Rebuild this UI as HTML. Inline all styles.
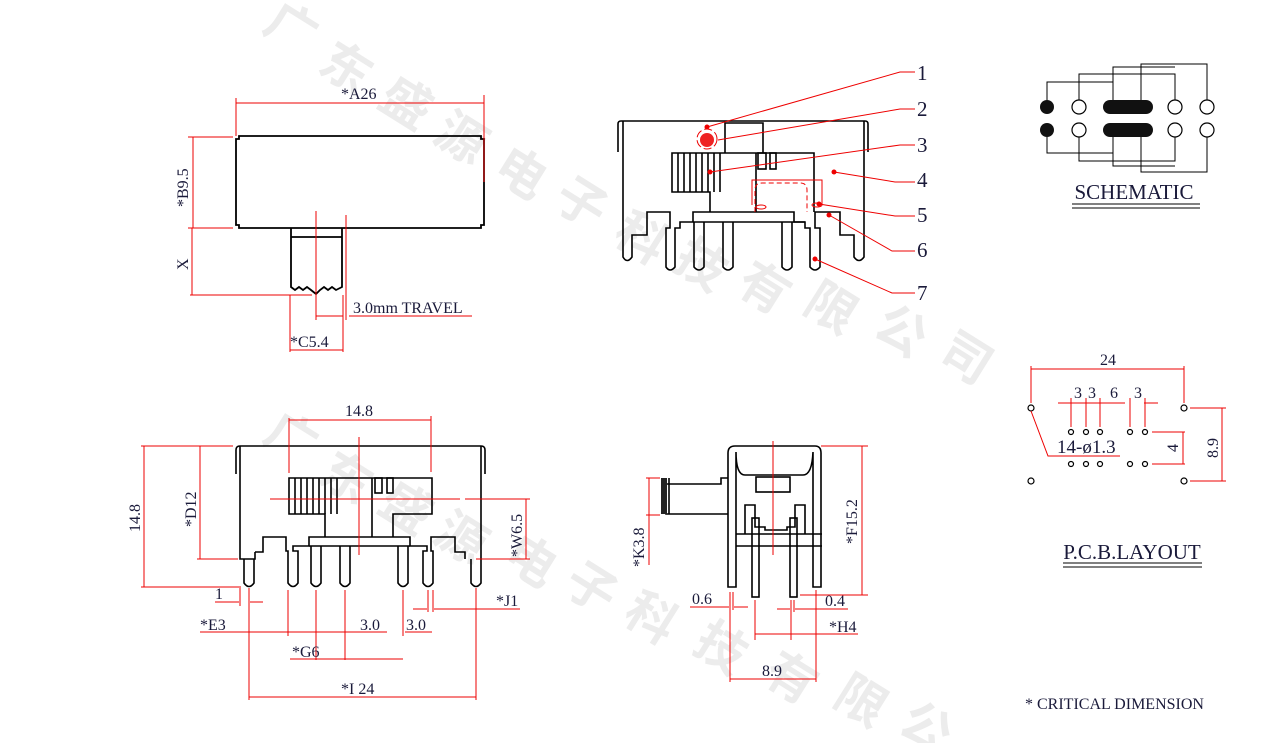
<!DOCTYPE html>
<html><head><meta charset="utf-8"><style>
html,body{margin:0;padding:0;background:#fff;}
svg{display:block;}
text{font-family:"Liberation Serif","Noto Serif CJK SC",serif;fill:#1a1a3a;}
.w text{font-family:"Noto Sans CJK SC","WenQuanYi Zen Hei",sans-serif;fill:#ececec;font-size:50px;font-weight:bold;}
</style></head><body>
<svg width="1266" height="743" viewBox="0 0 1266 743" xmlns="http://www.w3.org/2000/svg">
<!-- watermark -->
<g class="w">
<text x="265" y="45" transform="rotate(32 290 30)">广</text>
<text x="320" y="85" transform="rotate(32 345 70)">东</text>
<text x="380" y="120" transform="rotate(32 405 105)">盛</text>
<text x="435" y="155" transform="rotate(32 460 140)">源</text>
<text x="495" y="190" transform="rotate(32 520 175)">电</text>
<text x="555" y="220" transform="rotate(32 580 205)">子</text>
<text x="615" y="255" transform="rotate(32 640 240)">科</text>
<text x="675" y="282" transform="rotate(32 700 267)">技</text>
<text x="738" y="305" transform="rotate(32 763 290)">有</text>
<text x="805" y="325" transform="rotate(32 830 310)">限</text>
<text x="875" y="348" transform="rotate(32 900 333)">公</text>
<text x="940" y="375" transform="rotate(32 965 360)">司</text>
<text x="265" y="455" transform="rotate(32 290 440)">广</text>
<text x="320" y="495" transform="rotate(32 345 480)">东</text>
<text x="380" y="525" transform="rotate(32 405 510)">盛</text>
<text x="435" y="555" transform="rotate(32 460 540)">源</text>
<text x="505" y="578" transform="rotate(32 530 563)">电</text>
<text x="565" y="605" transform="rotate(32 590 590)">子</text>
<text x="625" y="635" transform="rotate(32 650 620)">科</text>
<text x="695" y="665" transform="rotate(32 720 650)">技</text>
<text x="765" y="695" transform="rotate(32 790 680)">有</text>
<text x="835" y="718" transform="rotate(32 860 703)">限</text>
<text x="900" y="745" transform="rotate(32 925 730)">公</text>
</g>

<!-- ============ TOP LEFT VIEW ============ -->
<g fill="none" stroke="#000" stroke-width="1.8">
<path d="M236,139 H239 V136 H481 V139 H484 V225 H481 V228 H239 V225 H236 Z"/>
<path d="M291,228 V287 L295,290 L299,287 L303,290 L307,287 L311,290 L316,294 L320,290 L324,287 L328,290 L332,287 L336,290 L342,287 V228"/>
<line x1="291" y1="237" x2="342" y2="237"/>
</g>
<g stroke="#e00" stroke-width="1" fill="none">
<line x1="236" y1="103" x2="484" y2="103"/><line x1="236" y1="98" x2="236" y2="136"/><line x1="484" y1="95" x2="484" y2="182"/>
<line x1="193" y1="137" x2="193" y2="228"/><line x1="188" y1="137" x2="233" y2="137"/><line x1="188" y1="228" x2="233" y2="228"/>
<line x1="192" y1="228" x2="192" y2="295"/><line x1="190" y1="295" x2="312" y2="295"/>
<line x1="316" y1="211" x2="316" y2="320"/><line x1="346" y1="215" x2="346" y2="320"/>
<line x1="316" y1="316" x2="343" y2="316"/><line x1="349" y1="316" x2="472" y2="316"/>
<line x1="290" y1="295" x2="290" y2="352"/><line x1="343" y1="295" x2="343" y2="352"/><line x1="290" y1="350" x2="343" y2="350"/>
</g>
<text x="341" y="99" font-size="16">*A26</text>
<text x="188" y="207" font-size="16" transform="rotate(-90 188 207)">*B9.5</text>
<text x="188" y="270" font-size="16" transform="rotate(-90 188 270)">X</text>
<text x="353" y="313" font-size="16">3.0mm  TRAVEL</text>
<text x="290" y="347" font-size="16">*C5.4</text>

<!-- ============ TOP RIGHT VIEW ============ -->
<g fill="none" stroke="#000" stroke-width="1.6">
<path d="M618,152 V124 Q618,121 621,121 H865 Q868,121 868,124 V152"/>
<path d="M623,121 V257 Q627,264 632,257 V235 H647 V212 H670 V228 H666 V267 Q670,273 675,267 V228 H680 V222 H693 V212 H794 V222 H805 V228 H810 V267 Q815,273 820,267 V228 H815 V212 H840 V235 H854 V257 Q859,264 864,257 V121"/>
<path d="M693,222 H805"/>
<path d="M694,222 V267 Q699,273 704,267 V222 M723,222 V267 Q728,273 733,267 V222 M782,222 V267 Q787,273 792,267 V222"/>
<path d="M710,212 V192 H672 V153 H814 V212 M756,153 V212"/>
<path d="M725,153 V123 H763 V153"/>
<rect x="758" y="153" width="8" height="16"/><rect x="770" y="153" width="6" height="16"/>
<line x1="678" y1="153" x2="678" y2="192"/><line x1="684" y1="153" x2="684" y2="192"/><line x1="690" y1="153" x2="690" y2="192"/><line x1="696" y1="153" x2="696" y2="192"/><line x1="702" y1="153" x2="702" y2="192"/><line x1="708" y1="153" x2="708" y2="192"/><line x1="714" y1="153" x2="714" y2="192"/><line x1="720" y1="153" x2="720" y2="192"/>
</g>
<g stroke="#e00" stroke-width="1" fill="none">
<path d="M755,212 V190 Q755,183 762,183 H800 Q807,183 807,190 V212" stroke-dasharray="5,3"/>
<path d="M752,205 V180 H822 V205"/>
<ellipse cx="761" cy="207" rx="5" ry="2"/><ellipse cx="817" cy="205" rx="5" ry="2"/>
<circle cx="707" cy="139" r="10" stroke-dasharray="8,3"/>
<polyline points="707,127 900,72 915,72"/><polyline points="718,140 900,109 915,109"/>
<polyline points="710,172 900,145 915,145"/><polyline points="834,172 895,182 915,182"/>
<polyline points="819,204 895,216 915,216"/><polyline points="829,215 892,251 915,251"/>
<polyline points="815,259 892,293 915,293"/>
</g>
<circle cx="707" cy="140" r="7" fill="#e22"/>
<g fill="#e00"><circle cx="707" cy="127" r="2.5"/><circle cx="710" cy="172" r="2.5"/><circle cx="834" cy="172" r="2.5"/><circle cx="819" cy="204" r="2.5"/><circle cx="829" cy="215" r="2.5"/><circle cx="815" cy="259" r="2.5"/></g>
<g font-size="21"><text x="917" y="80">1</text><text x="917" y="116">2</text><text x="917" y="152">3</text><text x="917" y="187">4</text><text x="917" y="222">5</text><text x="917" y="257">6</text><text x="917" y="300">7</text></g>

<!-- ============ SCHEMATIC ============ -->
<g fill="none" stroke="#000" stroke-width="1">
<polyline points="1047,100 1047,82 1113,82 1113,100"/>
<polyline points="1079,100 1079,74 1175,74 1175,100"/>
<polyline points="1113,82 1113,67 1175,67"/>
<polyline points="1141,100 1141,64 1207,64 1207,100"/>
<polyline points="1047,137 1047,153 1113,153 1113,137"/>
<polyline points="1079,137 1079,161 1175,161 1175,137"/>
<polyline points="1113,153 1113,166 1175,166"/>
<polyline points="1141,137 1141,172 1207,172 1207,137"/>
<g stroke-width="1.2"><circle cx="1079" cy="107" r="7"/><circle cx="1175" cy="107" r="7"/><circle cx="1207" cy="107" r="7"/><circle cx="1079" cy="130" r="7"/><circle cx="1175" cy="130" r="7"/><circle cx="1207" cy="130" r="7"/></g>
</g>
<g fill="#111"><circle cx="1047" cy="107" r="7"/><circle cx="1047" cy="130" r="7"/><rect x="1103" y="100" width="50" height="14" rx="7"/><rect x="1103" y="123" width="50" height="14" rx="7"/></g>
<text x="1134" y="199" font-size="21" text-anchor="middle">SCHEMATIC</text>
<line x1="1072" y1="204" x2="1200" y2="204" stroke="#000"/><line x1="1072" y1="208" x2="1200" y2="208" stroke="#000"/>

<!-- ============ PCB LAYOUT ============ -->
<g fill="none" stroke="#000" stroke-width="1.2">
<circle cx="1031" cy="408" r="3"/><circle cx="1184" cy="408" r="3"/><circle cx="1031" cy="481" r="3"/><circle cx="1184" cy="481" r="3"/>
<circle cx="1071" cy="432" r="2.5"/><circle cx="1086" cy="432" r="2.5"/><circle cx="1100" cy="432" r="2.5"/><circle cx="1130" cy="432" r="2.5"/><circle cx="1145" cy="432" r="2.5"/>
<circle cx="1071" cy="464" r="2.5"/><circle cx="1086" cy="464" r="2.5"/><circle cx="1100" cy="464" r="2.5"/><circle cx="1130" cy="464" r="2.5"/><circle cx="1145" cy="464" r="2.5"/>
</g>
<g stroke="#e00" stroke-width="1" fill="none">
<line x1="1031" y1="369" x2="1184" y2="369"/><line x1="1031" y1="366" x2="1031" y2="403"/><line x1="1184" y1="366" x2="1184" y2="403"/>
<line x1="1058" y1="403" x2="1125" y2="403"/><line x1="1144" y1="403" x2="1158" y2="403"/>
<line x1="1071" y1="398" x2="1071" y2="427"/><line x1="1086" y1="398" x2="1086" y2="427"/><line x1="1100" y1="398" x2="1100" y2="427"/><line x1="1130" y1="398" x2="1130" y2="427"/><line x1="1145" y1="398" x2="1145" y2="427"/>
<polyline points="1031,411 1048,456 1120,456"/>
<line x1="1152" y1="432" x2="1185" y2="432"/><line x1="1152" y1="464" x2="1185" y2="464"/><line x1="1183" y1="432" x2="1183" y2="464"/>
<line x1="1190" y1="408" x2="1226" y2="408"/><line x1="1190" y1="481" x2="1226" y2="481"/><line x1="1222" y1="408" x2="1222" y2="481"/>
</g>
<text x="1108" y="365" font-size="16" text-anchor="middle">24</text>
<text x="1074" y="398" font-size="16">3</text><text x="1088" y="398" font-size="16">3</text><text x="1110" y="398" font-size="16">6</text><text x="1134" y="398" font-size="16">3</text>
<text x="1057" y="453" font-size="19">14-ø1.3</text>
<text x="1178" y="452" font-size="16" transform="rotate(-90 1178 452)">4</text>
<text x="1218" y="458" font-size="16" transform="rotate(-90 1218 458)">8.9</text>
<text x="1132" y="559" font-size="21" text-anchor="middle">P.C.B.LAYOUT</text>
<line x1="1063" y1="563" x2="1202" y2="563" stroke="#000"/><line x1="1063" y1="567" x2="1202" y2="567" stroke="#000"/>

<!-- ============ BOTTOM LEFT VIEW ============ -->
<g fill="none" stroke="#000" stroke-width="1.6">
<path d="M236,474 V450 Q236,446 240,446 H481 Q485,446 485,450 V474"/>
<path d="M240,446 V559 H255 V552"/>
<path d="M244,559 V583 Q249,590 254,583 V559"/>
<path d="M255,552 H263 V537 H286 V551 H288 V583 Q293,590 298,583 V551 H293 V546 H309 V537 H410 V546 H427 V551 H423 V583 Q428,590 433,583 V551 H431 V537 H455 V552 H465 V559"/>
<path d="M481,446 V559 M471,559 V583 Q476,590 481,583 V559"/>
<path d="M309,546 H410"/>
<path d="M311,546 V583 Q316,590 321,583 V546 M340,546 V583 Q345,590 350,583 V546 M398,546 V583 Q403,590 408,583 V546"/>
<path d="M325,537 V514 H289 V478 H432 V514 H393 V537 M372,478 V537"/>
<rect x="375" y="478" width="7" height="15"/><rect x="387" y="478" width="6" height="15"/>
<line x1="295" y1="478" x2="295" y2="514"/><line x1="301" y1="478" x2="301" y2="514"/><line x1="307" y1="478" x2="307" y2="514"/><line x1="313" y1="478" x2="313" y2="514"/><line x1="319" y1="478" x2="319" y2="514"/><line x1="325" y1="478" x2="325" y2="514"/><line x1="331" y1="478" x2="331" y2="514"/><line x1="337" y1="478" x2="337" y2="514"/>
</g>
<g stroke="#e00" stroke-width="1" fill="none">
<line x1="289" y1="420" x2="431" y2="420"/><line x1="289" y1="418" x2="289" y2="473"/><line x1="431" y1="416" x2="431" y2="472"/>
<line x1="359" y1="437" x2="359" y2="555"/><line x1="270" y1="499" x2="460" y2="499"/>
<line x1="144" y1="446" x2="144" y2="587"/><line x1="141" y1="446" x2="233" y2="446"/><line x1="141" y1="587" x2="241" y2="587"/>
<line x1="200" y1="446" x2="200" y2="559"/><line x1="197" y1="559" x2="238" y2="559"/>
<line x1="465" y1="499" x2="530" y2="499"/><line x1="476" y1="559" x2="530" y2="559"/><line x1="526" y1="499" x2="526" y2="559"/>
<line x1="240" y1="588" x2="240" y2="606"/><line x1="249" y1="588" x2="249" y2="700"/>
<line x1="215" y1="602" x2="239" y2="602"/><line x1="250" y1="602" x2="263" y2="602"/>
<line x1="288" y1="590" x2="288" y2="636"/><line x1="316" y1="590" x2="316" y2="660"/><line x1="345" y1="590" x2="345" y2="660"/><line x1="403" y1="590" x2="403" y2="636"/>
<line x1="200" y1="632" x2="387" y2="632"/><line x1="405" y1="632" x2="432" y2="632"/>
<line x1="290" y1="659" x2="403" y2="659"/>
<line x1="428" y1="590" x2="428" y2="612"/><line x1="433" y1="590" x2="433" y2="612"/>
<line x1="413" y1="609" x2="427" y2="609"/><line x1="434" y1="609" x2="520" y2="609"/>
<line x1="476" y1="588" x2="476" y2="700"/><line x1="249" y1="697" x2="476" y2="697"/>
</g>
<text x="345" y="416" font-size="16">14.8</text>
<text x="140" y="532" font-size="16" transform="rotate(-90 140 532)">14.8</text>
<text x="196" y="527" font-size="16" transform="rotate(-90 196 527)">*D12</text>
<text x="522" y="557" font-size="16" transform="rotate(-90 522 557)">*W6.5</text>
<text x="215" y="599" font-size="16">1</text>
<text x="200" y="630" font-size="16">*E3</text>
<text x="360" y="630" font-size="16">3.0</text>
<text x="406" y="630" font-size="16">3.0</text>
<text x="292" y="657" font-size="16">*G6</text>
<text x="496" y="606" font-size="16">*J1</text>
<text x="341" y="694" font-size="16">*I 24</text>

<!-- ============ SIDE VIEW ============ -->
<g fill="none" stroke="#000" stroke-width="1.6">
<path d="M728,587 V453 Q728,446 735,446 H815 Q821,446 821,453 V587 H813 V452 Q812,475 803,475 H745 Q736,475 736,452 V587 Z"/>
<rect x="756" y="477" width="34" height="15"/>
<path d="M736,534 H822 M736,546 H822"/>
<path d="M745,534 V505 H755 V527 H765 V530 H787 V527 H795 V505 H805 V534"/>
<rect x="752" y="518" width="7" height="79"/><rect x="790" y="518" width="7" height="79"/>
<path d="M728,478 H721 V484 H666 V514 H728"/>
<line x1="664" y1="478" x2="664" y2="514"/><line x1="669" y1="478" x2="669" y2="514"/>
</g>
<rect x="661" y="478" width="6" height="36" fill="#222"/>
<g stroke="#e00" stroke-width="1" fill="none">
<line x1="773" y1="441" x2="773" y2="555"/>
<line x1="821" y1="446" x2="868" y2="446"/><line x1="862" y1="446" x2="862" y2="595"/><line x1="800" y1="595" x2="868" y2="595"/>
<line x1="646" y1="478" x2="660" y2="478"/><line x1="646" y1="515" x2="660" y2="515"/><line x1="649" y1="478" x2="649" y2="565"/>
<line x1="730" y1="592" x2="730" y2="682"/><line x1="733" y1="592" x2="733" y2="610"/>
<line x1="690" y1="607" x2="729" y2="607"/><line x1="734" y1="607" x2="748" y2="607"/>
<line x1="755" y1="600" x2="755" y2="640"/><line x1="791" y1="600" x2="791" y2="640"/><line x1="794" y1="600" x2="794" y2="612"/>
<line x1="777" y1="609" x2="790" y2="609"/><line x1="795" y1="609" x2="848" y2="609"/>
<line x1="755" y1="634" x2="858" y2="634"/>
<line x1="816" y1="590" x2="816" y2="682"/><line x1="730" y1="679" x2="816" y2="679"/>
</g>
<text x="644" y="567" font-size="16" transform="rotate(-90 644 567)">*K3.8</text>
<text x="857" y="544" font-size="16" transform="rotate(-90 857 544)">*F15.2</text>
<text x="692" y="604" font-size="16">0.6</text>
<text x="825" y="606" font-size="16">0.4</text>
<text x="829" y="632" font-size="16">*H4</text>
<text x="762" y="676" font-size="16">8.9</text>

<text x="1025" y="709" font-size="16">* CRITICAL  DIMENSION</text>
</svg>
</body></html>
